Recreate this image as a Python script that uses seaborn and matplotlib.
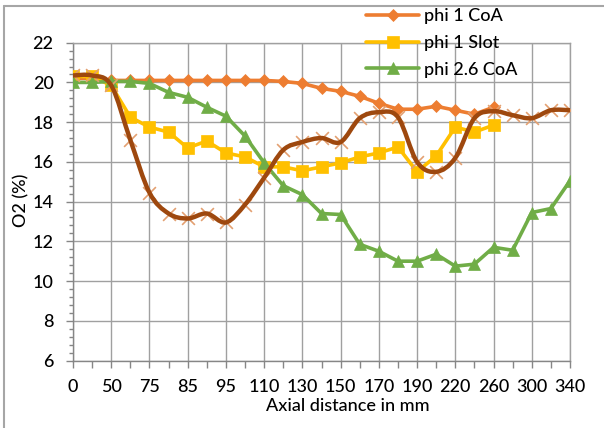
import numpy as np
import pandas as pd
import matplotlib
matplotlib.use("Agg")
import matplotlib.pyplot as plt
import seaborn as sns
from matplotlib.path import Path
from matplotlib.patches import PathPatch
from matplotlib.lines import Line2D
from matplotlib.ticker import FixedLocator

# Axial measuring stations (mm); every second one is labelled on the axis
distance_mm = [0, 25, 50, 62, 75, 80, 85, 90, 95, 100, 110, 120, 130, 140,
               150, 160, 170, 180, 190, 200, 220, 240, 260, 280, 300, 320, 340]

# O2 concentration (%) per configuration
phi1_coa = [20.2, 20.2, 20.1, 20.1, 20.1, 20.1, 20.1, 20.1, 20.1, 20.1, 20.1,
            20.05, 19.95, 19.7, 19.55, 19.3, 18.95, 18.65, 18.65, 18.8, 18.6,
            18.4, 18.75]
phi1_slot = [20.3, 20.3, 19.85, 18.25, 17.75, 17.5, 16.7, 17.05, 16.45, 16.25,
             15.75, 15.75, 15.55, 15.75, 15.95, 16.25, 16.45, 16.75, 15.5, 16.3,
             17.75, 17.5, 17.85]
phi26_coa = [20.0, 20.0, 20.05, 20.05, 19.95, 19.5, 19.25, 18.75, 18.3, 17.3,
             15.95, 14.8, 14.35, 13.4, 13.35, 11.85, 11.5, 11.0, 11.0, 11.35,
             10.75, 10.85, 11.7, 11.55, 13.45, 13.65, 15.05]
fourth_run = [20.35, 20.35, 19.85, 17.1, 14.45, 13.4, 13.15, 13.4, 12.95, 13.85,
              15.2, 16.6, 17.0, 17.2, 17.0, 18.2, 18.5, 18.25, 16.0, 15.5, 16.2,
              18.2, 18.55, 18.35, 18.2, 18.6, 18.6]

y_ticks = [6, 8, 10, 12, 14, 16, 18, 20, 22]

sns.set_theme(style="white")
plt.rcParams['font.family'] = ['Lato', 'DejaVu Sans']
plt.rcParams['font.weight'] = 'medium'
plt.rcParams['text.color'] = 'black'
plt.rcParams['axes.labelcolor'] = 'black'
plt.rcParams['axes.labelweight'] = 'medium'
plt.rcParams['xtick.color'] = 'black'
plt.rcParams['ytick.color'] = 'black'

FS = 13

W, H = 604, 428
fig = plt.figure(figsize=(W / 100, H / 100), dpi=100)
left, right, top, bottom = 73, 570, 42.7, 360.5
ax = fig.add_axes([left / W, 1 - bottom / H, (right - left) / W, (bottom - top) / H])

pos = np.arange(len(distance_mm))


def frame(vals):
    return pd.DataFrame({'pos': pos[:len(vals)], 'O2': vals})


styles = [
    (phi1_coa, 'phi 1 CoA', '#ED7D31', 'D', 6.5),
    (phi1_slot, 'phi 1 Slot', '#FFC000', 's', 9),
    (phi26_coa, 'phi 2.6 CoA', '#70AD47', '^', 9),
]
for z, (vals, name, col, mk, ms) in enumerate(styles):
    sns.lineplot(data=frame(vals), x='pos', y='O2', ax=ax, color=col, lw=2.6,
                 marker=mk, markersize=ms, markeredgecolor=col, markeredgewidth=0.5,
                 label=name, zorder=3 + z)

# fourth run: x markers under a smoothed (Bezier) line
brown = '#9E480E'
sns.scatterplot(data=frame(fourth_run), x='pos', y='O2', ax=ax, marker='x',
                s=85, color='#E3A071', linewidth=1.2, legend=False, zorder=6)

pts = np.column_stack([pos[:len(fourth_run)], fourth_run]).astype(float)
ext = np.vstack([pts[0], pts, pts[-1]])
verts = [tuple(pts[0])]
codes = [Path.MOVETO]
for i in range(len(pts) - 1):
    p_prev, p0, p1, p_next = ext[i], ext[i + 1], ext[i + 2], ext[i + 3]
    c1 = p0 + (p1 - p_prev) / 6.0
    c2 = p1 - (p_next - p0) / 6.0
    verts += [tuple(c1), tuple(c2), tuple(p1)]
    codes += [Path.CURVE4] * 3
ax.add_patch(PathPatch(Path(verts, codes), facecolor='none', edgecolor=brown,
                       lw=3.2, zorder=7, capstyle='round', joinstyle='round'))

# axes, ticks and grid
ax.set_xlim(0, len(distance_mm) - 1)
ax.set_ylim(6, 22)
ax.set_xticks(pos[::2])
ax.set_xticklabels([str(d) for d in distance_mm[::2]])
ax.set_xticks(pos[1::2], minor=True)
ax.set_yticks(y_ticks)
ax.yaxis.set_minor_locator(FixedLocator(np.arange(6, 22.01, 0.4)))
ax.set_axisbelow(True)
ax.grid(True, which='major', color='#A0A0A0', lw=1)
ax.grid(False, which='minor')

ax.tick_params(which='both', direction='out', color='#868686', width=1,
               bottom=True, left=True, labelsize=FS)
ax.tick_params(axis='x', which='both', length=5, pad=8)
ax.tick_params(axis='y', which='major', length=5, pad=9)
ax.tick_params(axis='y', which='minor', length=3)

for side in ['left', 'bottom']:
    ax.spines[side].set_color('#868686')
    ax.spines[side].set_linewidth(1)
for side in ['top', 'right']:
    ax.spines[side].set_color('#A0A0A0')
    ax.spines[side].set_linewidth(1)

ax.set_xlabel('Axial distance in mm', fontsize=FS)
ax.set_ylabel('O2 (%)', fontsize=FS)
ax.xaxis.set_label_coords((347.5 - left) / (right - left), (bottom - 406) / (bottom - top))
ax.xaxis.label.set_verticalalignment('center')
ax.yaxis.set_label_coords((21 - left) / (right - left), 0.505)
ax.yaxis.label.set_verticalalignment('center')

handles, labels = ax.get_legend_handles_labels()
keep = [(h, l) for h, l in zip(handles, labels) if l in ('phi 1 CoA', 'phi 1 Slot', 'phi 2.6 CoA')]
ax.legend([h for h, _ in keep], [l for _, l in keep], loc='upper left',
          bbox_to_anchor=(366 / W, 1 - 8 / H), bbox_transform=fig.transFigure,
          frameon=False, fontsize=FS, handlelength=2.95, handletextpad=0.25,
          labelspacing=0.6, borderpad=0, borderaxespad=0)

# chart-area border
fig.add_artist(Line2D([4 / W, 4 / W], [0, 1 - 6 / H], transform=fig.transFigure,
                      color='#A6A6A6', lw=1.5))
fig.add_artist(Line2D([4 / W, 1], [1 - 6 / H, 1 - 6 / H], transform=fig.transFigure,
                      color='#A6A6A6', lw=1.5))

fig.savefig('out.png', dpi=100)
